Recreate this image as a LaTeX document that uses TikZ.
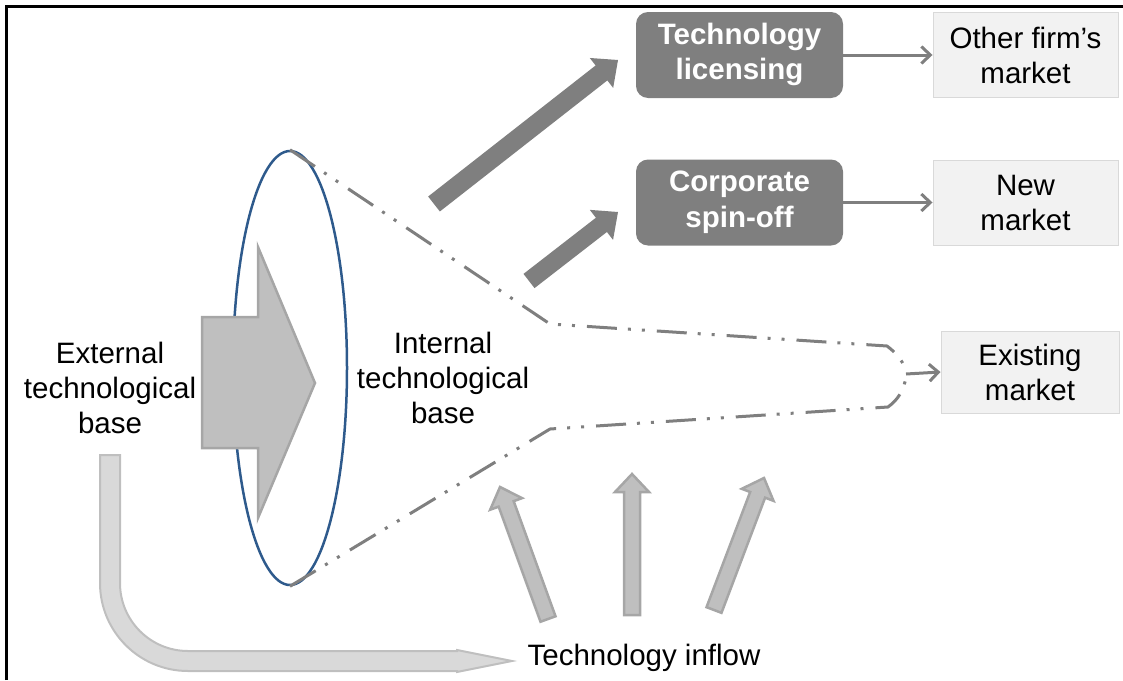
\documentclass[tikz,border=0pt]{standalone}
\usepackage{fontspec}
\setmainfont{Liberation Sans}
\usetikzlibrary{arrows.meta,calc,shapes.geometric}
\definecolor{dk}{HTML}{7F7F7F}
\definecolor{lt}{HTML}{F2F2F2}
\definecolor{ltb}{HTML}{D9D9D9}
\definecolor{midg}{HTML}{BFBFBF}
\definecolor{midb}{HTML}{A6A6A6}
\definecolor{ellc}{HTML}{2E5A8C}
\newcommand\blockarr[6]{%
  \coordinate (hb) at ($(#3)!#6!(#2)$);
  \draw[#1] ($(#2)!#4!90:(#3)$) -- ($(hb)!#4!90:(#3)$) -- ($(hb)!#5!90:(#3)$) -- (#3)
    -- ($(hb)!#5!-90:(#3)$) -- ($(hb)!#4!-90:(#3)$) -- ($(#2)!#4!-90:(#3)$) -- cycle;}
\tikzset{
  txt/.style={font=\fontsize{29.5}{35}\selectfont, align=center, inner sep=0pt},
  darkbox/.style={txt, fill=dk, text=white, font=\fontsize{29.5}{35.5}\selectfont\bfseries,
     rounded corners=12pt, minimum width=207pt, minimum height=86pt},
  lightbox/.style={txt, fill=lt, draw=ltb, line width=1pt, minimum width=185pt, minimum height=85pt},
  conn/.style={draw=dk, line width=3pt, -{Straight Barb[length=9pt,width=17pt]}},
  funnel/.style={draw=dk, line width=3pt, dash pattern=on 30pt off 11pt on 3pt off 11pt on 3pt off 12pt},
  thickarr/.style={fill=dk, draw=none},
  grayarr/.style={fill=midg, draw=midb, line width=2.5pt, line join=miter},
  bentarr/.style={fill=ltb, draw=midg, line width=2pt},
}
\begin{document}
\begin{tikzpicture}[x=1pt,y=-1pt]
\useasboundingbox (0,0) rectangle (1123,680);
% ellipse
\node[draw=ellc, line width=2.5pt, ellipse, minimum width=114pt, minimum height=434pt, inner sep=0pt] (ell) at (290,368) {};
% big gray block arrow
\draw[grayarr] (202,317) -- (258,317) -- (258,247) -- (315,383) -- (258,518) -- (258,448) -- (202,448) -- cycle;
% funnel lines
\coordinate (fun) at (906,374);
\draw[funnel] (ell.north) -- (550,324) -- (887,346) .. controls (899,355) and (904,364) .. (906,371);
\draw[funnel] (ell.south) -- (550,429) -- (888,407) .. controls (899,399) and (904,389) .. (906,377);
% boxes
\node[darkbox] (lic) at (739.5,55) {\raisebox{-2pt}{\begin{tabular}{@{}c@{}}Technology\\licensing\end{tabular}}};
\node[darkbox] (spin) at (739.5,202.5) {\raisebox{-2pt}{\begin{tabular}{@{}c@{}}Corporate\\spin-off\end{tabular}}};
\node[lightbox] (ofm) at (1025.5,55) {Other firm’s\\market};
\node[lightbox] (newm) at (1025.5,202.5) {New\\market};
\node[lightbox, minimum width=178pt, minimum height=82pt] (exist) at (1030,372) {Existing\\market};
\draw[conn] (lic) -- (ofm);
\draw[conn] (spin) -- (newm);
\draw[conn] (fun) -- (exist.west);
% thick dark arrows
\coordinate (a1t) at (434,204); \coordinate (a1h) at (618,60);
\coordinate (a2t) at (529,281); \coordinate (a2h) at (618,212);
\blockarr{thickarr}{a1t}{a1h}{9.5pt}{19pt}{21pt}
\blockarr{thickarr}{a2t}{a2h}{9pt}{19pt}{21pt}
% technology inflow arrows
\coordinate (i1t) at (548,619); \coordinate (i1h) at (500,487);
\coordinate (i2t) at (632,615); \coordinate (i2h) at (632,474);
\coordinate (i3t) at (714,610); \coordinate (i3h) at (764,478);
\blockarr{grayarr}{i1t}{i1h}{8pt}{17pt}{18pt}
\blockarr{grayarr}{i2t}{i2h}{8pt}{17pt}{18pt}
\blockarr{grayarr}{i3t}{i3h}{8pt}{17pt}{18pt}
% bent arrow
\draw[bentarr] (100,455) -- (100,583) arc[start angle=180,end angle=90,radius=88] -- (457,671) -- (457,672) -- (512,661) -- (457,650) -- (457,651) -- (188,651) arc[start angle=90,end angle=180,radius=68] -- (120,455) -- cycle;
% labels
\node[txt] (ext) at (110,388) {External\\technological\\base};
\node[txt] (int) at (443,378) {Internal\\technological\\base};
\node[txt] (inflow) at (644,658) {Technology inflow};
% frame
\draw[line width=2.5pt] (6.5,680) -- (6.5,6.5) -- (1123,6.5);
\end{tikzpicture}
\end{document}
